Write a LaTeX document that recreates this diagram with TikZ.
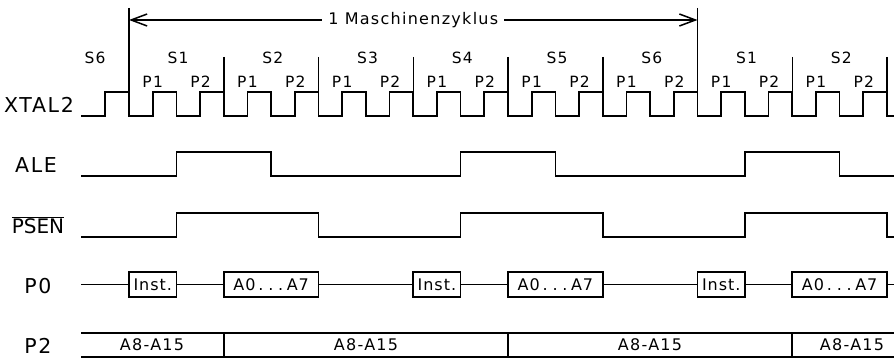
\documentclass[tikz,border=0pt]{standalone}
\usepackage{fontspec}
\newfontfamily\dinfont[LetterSpace=8]{DejaVu Sans}
\newfontfamily\boxfont[LetterSpace=6]{DejaVu Sans}
\newfontfamily\dotfont[LetterSpace=30]{DejaVu Sans}
\usetikzlibrary{arrows.meta}
\newcommand{\adots}{\kern3pt{\dotfont...}\kern3.5pt}
\begin{document}
\begin{tikzpicture}[x=1pt,y=-1pt,
  sig/.style={line width=1.7pt, line join=miter},
  guide/.style={line width=1.5pt},
  siglabel/.style={font=\dinfont\fontsize{20.5}{22}\selectfont, inner sep=0pt},
  statelabel/.style={font=\dinfont\fontsize{15.5}{17}\selectfont, inner sep=0pt},
  databox/.style={draw, line width=1.7pt, minimum height=25pt, inner sep=0pt, font=\boxfont\fontsize{16}{18}\selectfont},
  bustext/.style={font=\dinfont\fontsize{16}{18}\selectfont, inner sep=0pt}]
\useasboundingbox (0,0) rectangle (894,361);
\fill[white] (0,0) rectangle (894,361);

% signal names
\node[siglabel] (lx) at (39,105) {XTAL2};
\node[siglabel] (la) at (36,165) {ALE};
\node[siglabel, font=\fontspec{DejaVu Sans}\fontsize{20}{22}\selectfont] (lp) at (38,225) {$\overline{\hbox{PSEN}}$};
\node[siglabel] (l0) at (38,286) {P0};
\node[siglabel] (l2) at (38,346) {P2};

% machine cycle arrow
\coordinate (al) at (129,20);
\coordinate (ar) at (697.5,20);
\draw[guide, {Straight Barb[length=16pt,width=12pt]}-{Straight Barb[length=16pt,width=12pt]}] (al) -- (ar)
  node[midway, fill=white, inner xsep=6pt, inner ysep=0pt, font=\dinfont\fontsize{16}{18}\selectfont] (mz) {1 Maschinenzyklus};

% state boundaries
\draw[guide] (129,8) -- (129,116);
\draw[guide] (697.5,8) -- (697.5,116);
\foreach \k in {1,2,3,4,5,7,8}
  \draw[guide] ({129+94.75*\k},57) -- ({129+94.75*\k},116);

% state and phase labels
\node[statelabel] (s0) at (95,58) {S6};
\foreach \s [count=\k from 0] in {S1,S2,S3,S4,S5,S6,S1,S2} {
  \node[statelabel] (s\k) at ({129+94.75*\k+49},58) {\s};
  \node[statelabel] (pa\k) at ({129+94.75*\k+23.7},82) {P1};
  \node[statelabel] (pb\k) at ({129+94.75*\k+71.5},82) {P2};
}

% XTAL2 clock
\draw[sig] (81,116) -- (105.3,116) -- (105.3,92) -- (129,92)
  foreach \i in {0,...,15} {
    -- ({129+47.375*\i},116) -- ({129+47.375*\i+23.6875},116)
    -- ({129+47.375*\i+23.6875},92) -- ({129+47.375*(\i+1)},92)
  } -- (887,116) -- (894,116);

% ALE
\draw[sig] (81,176) -- (176.375,176) -- (176.375,152) -- (271.125,152) -- (271.125,176)
  -- (460.625,176) -- (460.625,152) -- (555.375,152) -- (555.375,176)
  -- (744.875,176) -- (744.875,152) -- (839.625,152) -- (839.625,176) -- (894,176);

% PSEN
\draw[sig] (81,237) -- (176.375,237) -- (176.375,213) -- (318.5,213) -- (318.5,237)
  -- (460.625,237) -- (460.625,213) -- (602.75,213) -- (602.75,237)
  -- (744.875,237) -- (744.875,213) -- (887,213) -- (887,237) -- (894,237);

% P0
\node[databox, minimum width=47.4pt] (i1) at (152.7,284.5) {Inst.};
\node[databox, minimum width=94.75pt] (a1) at (271.125,284.5) {A0\adots A7};
\node[databox, minimum width=47.4pt] (i2) at (436.9,284.5) {Inst.};
\node[databox, minimum width=94.75pt] (a2) at (555.375,284.5) {A0\adots A7};
\node[databox, minimum width=47.4pt] (i3) at (721.2,284.5) {Inst.};
\node[databox, minimum width=94.75pt] (a3) at (839.625,284.5) {A0\adots A7};
\coordinate (p0s) at (81,284.5);
\coordinate (p0e) at (894,284.5);
\draw[sig] (p0s) -- (i1);
\draw[sig] (i1) -- (a1);
\draw[sig] (a1) -- (i2);
\draw[sig] (i2) -- (a2);
\draw[sig] (a2) -- (i3);
\draw[sig] (i3) -- (a3);
\draw[sig] (a3) -- (p0e);

% P2
\draw[sig] (81,333) -- (894,333);
\draw[sig] (81,357) -- (894,357);
\foreach \x in {223.75,508,792.25}
  \draw[sig] (\x,333) -- (\x,357);
\node[bustext] (b1) at (152,345) {A8-A15};
\node[bustext] (b2) at (366,345) {A8-A15};
\node[bustext] (b3) at (650,345) {A8-A15};
\node[bustext] (b4) at (852,345) {A8-A15};
\end{tikzpicture}
\end{document}
